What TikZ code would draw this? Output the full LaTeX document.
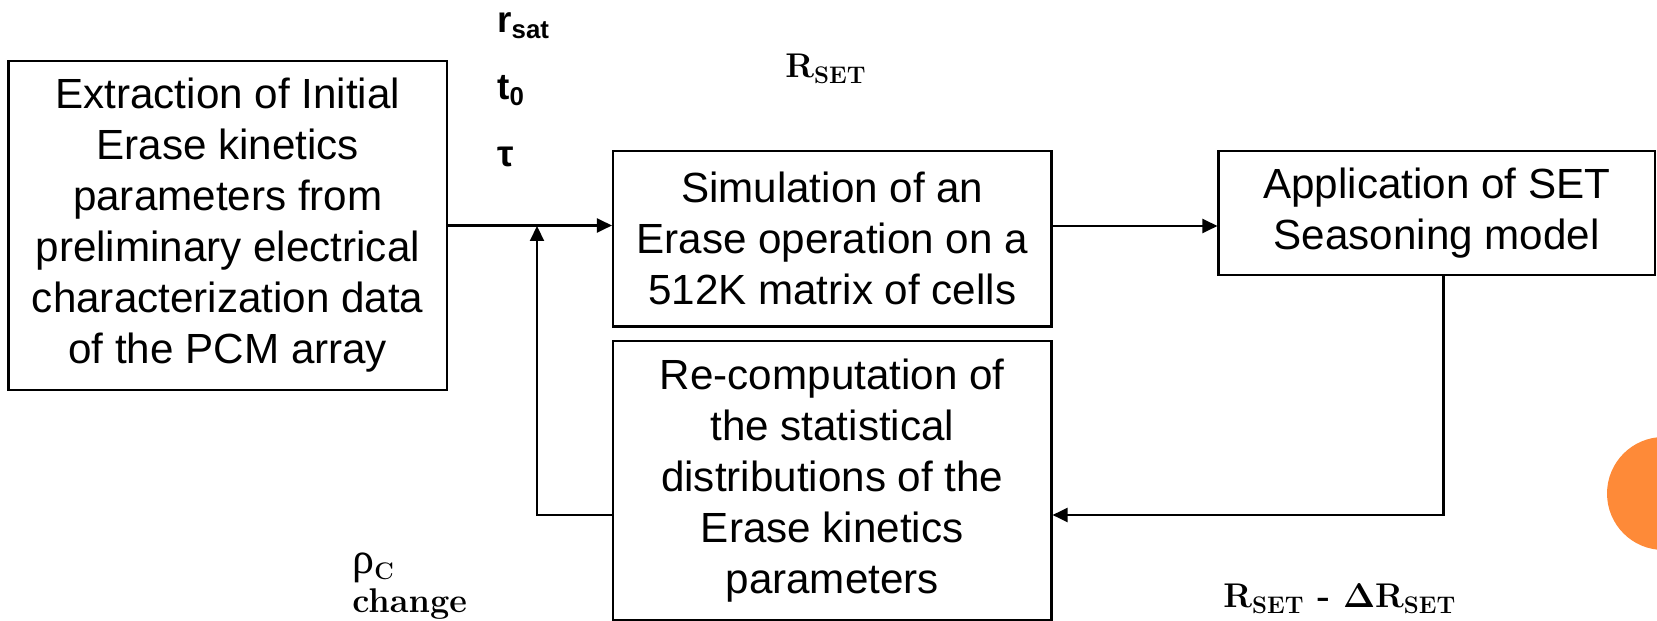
\RequirePackage{fix-cm}
\documentclass[tikz,border=0pt]{standalone}
\usepackage[no-math]{fontspec}
\setsansfont{Liberation Sans}
\newfontfamily\rhofont{Liberation Serif}
\usetikzlibrary{arrows.meta}
\definecolor{dotorange}{RGB}{254,138,56}

\begin{document}
\begin{tikzpicture}[
	box/.style={draw, line width=1.2pt, align=center, inner sep=0pt, font=\sffamily\fontsize{24}{29}\selectfont},
	param/.style={anchor=base west, inner sep=0pt, font=\sffamily\bfseries\fontsize{21}{25}\selectfont},
	val/.style={inner sep=0pt, align=left, font=\bfseries\fontsize{19.5}{22}\selectfont},
	wire/.style={line width=1.2pt},
	arr/.style={wire, -{Triangle[length=3mm, width=2.8mm]}}
	]
				\clip (0,0) rectangle (33.14,12.42);

				% 箱
				\node[box, minimum width=8.77cm, minimum height=6.58cm] (extract) at (4.555, 7.91) {Extraction of Initial\\Erase kinetics\\parameters from\\preliminary electrical\\characterization data\\of the PCM array};
				\node[box, minimum width=8.77cm, minimum height=3.51cm] (sim) at (16.645, 7.645) {Simulation of an\\Erase operation on a\\512K matrix of cells};
				\node[box, minimum width=8.73cm, minimum height=2.48cm] (apply) at (28.735, 8.16) {Application of SET\\Seasoning model};
				\node[box, minimum width=8.77cm, minimum height=5.58cm] (recomp) at (16.645, 2.81) {Re-computation of\\the statistical\\distributions of the\\Erase kinetics\\parameters};

				% 線を引く
				\coordinate (mid) at (10.74, 7.9);
				\coordinate (back) at (10.74, 2.12);
				\coordinate (down) at (28.87, 2.12);
				\draw[arr] (extract.east) -- (extract.east -| sim.west);
				\draw[arr] (sim.east |- mid) -- (apply.west |- mid);
				\draw[arr] (apply.south -| down) -- (down) -- (recomp.east |- down);
				\draw[arr] (recomp.west |- back) -- (back) -- (mid);

				% 値を入れる
				\node[param] (rsat) at (9.94, 11.76) {r\textsubscript{sat}};
				\node[param] (tzero) at (9.94, 10.42) {t\textsubscript{0}};
				\node[param] (tau) at (9.94, 9.08) {τ};
				\node[val, anchor=base west] (rset) at (15.7, 10.86) {$\mathbf{R}_{\mathbf{SET}}$};
				\node[val, anchor=north west] (rho) at (7.04, 1.36) {{\rhofont\mdseries\fontsize{25}{22}\selectfont ρ}$_{\mathbf{C}}$\\change};
				\node[val, anchor=base west] (rdelta) at (24.46, 0.26) {$\mathbf{R}_{\mathbf{SET}}$ - $\mathbf{\Delta R}_{\mathbf{SET}}$};

				\fill[dotorange] (33.27, 2.55) circle (1.13);
			\end{tikzpicture}
\end{document}
